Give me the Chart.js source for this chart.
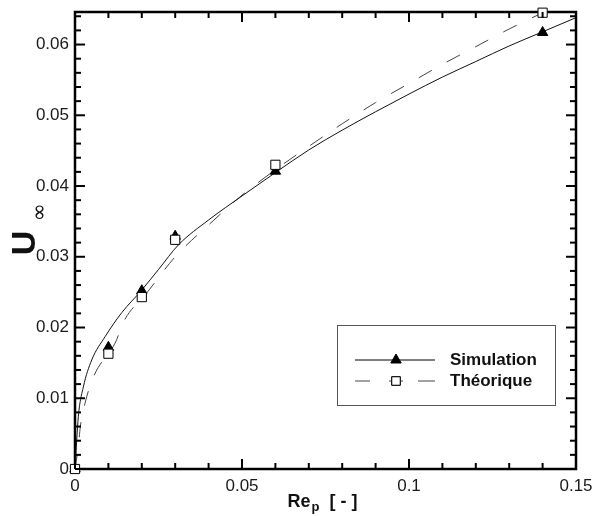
<!DOCTYPE html>
<html>
<head>
<meta charset="utf-8">
<script src="https://cdn.jsdelivr.net/npm/chart.js@4.4.0/dist/chart.umd.min.js"></script>
<style>
  html, body { margin: 0; padding: 0; background: #fff; }
</style>
</head>
<body>
<canvas id="myChart" width="594" height="516"></canvas>
<script>
// markers
const pointRe = [0, 0.01, 0.02, 0.03, 0.06, 0.14];
const simU = [0, 0.0172, 0.0252, 0.0329, 0.0421, 0.0617];
const theoU = [0, 0.0163, 0.0243, 0.0324, 0.0430, 0.0645];

// curves, points picked along the drawn lines
const simCurveRe = [0, 0.001, 0.0025, 0.005, 0.009, 0.014, 0.02, 0.025, 0.031, 0.04, 0.05, 0.06, 0.07, 0.08, 0.09, 0.10, 0.11, 0.12, 0.13, 0.14, 0.15];
const simCurveU = [0, 0.0074, 0.0116, 0.0154, 0.0187, 0.0221, 0.0253, 0.0282, 0.0317, 0.0352, 0.0386, 0.0419, 0.0451, 0.0479, 0.0505, 0.0530, 0.0554, 0.0576, 0.0598, 0.0618, 0.0638];
const theoCurveRe = [0, 0.001, 0.0016, 0.003, 0.0056, 0.012, 0.015, 0.021, 0.03, 0.04, 0.05, 0.06, 0.07, 0.08, 0.09, 0.10, 0.11, 0.12, 0.13, 0.14, 0.15];
const theoCurveU = [0, 0.0032, 0.0060, 0.0093, 0.0131, 0.0178, 0.0212, 0.0246, 0.0300, 0.0345, 0.0387, 0.0423, 0.0456, 0.0488, 0.0518, 0.0545, 0.0572, 0.0597, 0.0622, 0.0645, 0.0668];

const xTicks = [0, 0.05, 0.1, 0.15];
const xTickLabels = ['0', '0.05', '0.1', '0.15'];
const yTicks = [0, 0.01, 0.02, 0.03, 0.04, 0.05, 0.06];
const yTickLabels = ['0', '0.01', '0.02', '0.03', '0.04', '0.05', '0.06'];
const legendLabels = ['Simulation', 'Théorique'];

const xyPairs = (xs, ys) => xs.map((x, i) => ({ x: x, y: ys[i] }));

function segment(ctx, x1, y1, x2, y2) {
  ctx.beginPath();
  ctx.moveTo(x1, y1);
  ctx.lineTo(x2, y2);
  ctx.stroke();
}

// frame, inward ticks on all four sides, axis titles, legend box
const decor = {
  id: 'decor',
  beforeDatasetsDraw(chart) {
    const ctx = chart.ctx;
    const a = chart.chartArea;
    ctx.save();
    ctx.strokeStyle = '#000';
    ctx.lineWidth = 2.5;
    ctx.strokeRect(a.left, a.top, a.right - a.left, a.bottom - a.top);
    ctx.restore();
  },
  afterDraw(chart) {
    const ctx = chart.ctx;
    const a = chart.chartArea;
    const xs = chart.scales.x, ys = chart.scales.y;
    ctx.save();
    ctx.setLineDash([]);
    ctx.strokeStyle = '#000';
    ctx.lineWidth = 2;

    // x: a tick every 0.01, longer at labelled values
    for (let i = 0; i <= 15; i++) {
      const px = xs.getPixelForValue(i / 100);
      const len = (i % 5 === 0) ? 10 : 6;
      segment(ctx, px, a.bottom, px, a.bottom - len);
      segment(ctx, px, a.top, px, a.top + len);
    }
    // y: a tick every 0.002
    for (let i = 0; i * 0.002 <= ys.max; i++) {
      const py = ys.getPixelForValue(i * 0.002);
      const len = (i % 5 === 0) ? 10 : 6;
      segment(ctx, a.left, py, a.left + len, py);
      segment(ctx, a.right, py, a.right - len, py);
    }

    ctx.fillStyle = '#111';
    // y title: U with infinity subscript
    ctx.translate(26, 243);
    ctx.rotate(-Math.PI / 2);
    ctx.textAlign = 'center';
    ctx.textBaseline = 'middle';
    ctx.font = 'bold 34px "Liberation Sans", Arial, sans-serif';
    ctx.fillText('U', 0, 0);
    ctx.font = '22px "DejaVu Sans", sans-serif';
    ctx.fillText('\u221E', 31, 14);
    ctx.setTransform(1, 0, 0, 1, 0, 0);

    // x title: Re_p [ - ]
    ctx.textAlign = 'left';
    ctx.textBaseline = 'alphabetic';
    const big = 'bold 18px "Liberation Sans", Arial, sans-serif';
    const small = 'bold 13px "Liberation Sans", Arial, sans-serif';
    const rest = '  [ - ]';
    ctx.font = big;
    const w1 = ctx.measureText('Re').width;
    const w3 = ctx.measureText(rest).width;
    ctx.font = small;
    const w2 = ctx.measureText('p').width;
    let tx = 322 - (w1 + w2 + w3) / 2;
    const ty = 507;
    ctx.font = big; ctx.fillText('Re', tx, ty); tx += w1 + 1;
    ctx.font = small; ctx.fillText('p', tx, ty + 4); tx += w2;
    ctx.font = big; ctx.fillText(rest, tx, ty);

    // legend box
    const bx = a.right - 239, by = a.bottom - 144, bw = 218, bh = 80;
    ctx.fillStyle = '#fff';
    ctx.fillRect(bx, by, bw, bh);
    ctx.strokeStyle = '#555';
    ctx.lineWidth = 1;
    ctx.strokeRect(bx + 0.5, by + 0.5, bw, bh);
    const rows = [by + 35, by + 56];
    ctx.strokeStyle = '#000';
    segment(ctx, bx + 18, rows[0], bx + 98, rows[0]);
    Chart.helpers.drawPoint(ctx, { pointStyle: 'triangle', radius: 6, borderWidth: 1 }, bx + 59, rows[0]);
    ctx.fillStyle = '#000';
    ctx.fill();
    ctx.strokeStyle = '#444';
    segment(ctx, bx + 18, rows[1], bx + 33, rows[1]);
    segment(ctx, bx + 52, rows[1], bx + 66, rows[1]);
    segment(ctx, bx + 81, rows[1], bx + 98, rows[1]);
    ctx.fillStyle = '#fff';
    ctx.strokeStyle = '#000';
    Chart.helpers.drawPoint(ctx, { pointStyle: 'rect', radius: 6, borderWidth: 1 }, bx + 59, rows[1]);
    ctx.fill();
    ctx.stroke();
    ctx.fillStyle = '#111';
    ctx.font = 'bold 17px "Liberation Sans", Arial, sans-serif';
    ctx.textBaseline = 'middle';
    ctx.fillText(legendLabels[0], bx + 113, rows[0]);
    ctx.fillText(legendLabels[1], bx + 113, rows[1]);
    ctx.restore();
  }
};

const tickFont = { family: '"Liberation Sans", Arial, sans-serif', size: 17 };

new Chart(document.getElementById('myChart').getContext('2d'), {
  type: 'scatter',
  data: {
    datasets: [
      {
        label: legendLabels[1],
        data: xyPairs(pointRe, theoU),
        pointStyle: 'rect',
        pointRadius: 6.5,
        backgroundColor: '#fff',
        borderColor: '#000',
        borderWidth: 1,
        clip: false,
        order: 0
      },
      {
        label: legendLabels[0],
        data: xyPairs(pointRe, simU),
        pointStyle: 'triangle',
        pointRadius: 6,
        backgroundColor: '#000',
        borderColor: '#000',
        borderWidth: 1,
        clip: false,
        order: 1
      },
      {
        label: 'sim curve',
        data: xyPairs(simCurveRe, simCurveU),
        showLine: true,
        pointRadius: 0,
        borderColor: '#111',
        borderWidth: 1,
        cubicInterpolationMode: 'monotone',
        order: 2
      },
      {
        label: 'theo curve',
        data: xyPairs(theoCurveRe, theoCurveU),
        showLine: true,
        pointRadius: 0,
        borderColor: '#444',
        borderWidth: 1,
        borderDash: [15, 17],
        cubicInterpolationMode: 'monotone',
        order: 3
      }
    ]
  },
  options: {
    responsive: false,
    animation: false,
    layout: { padding: { left: 0, right: 18, top: 12, bottom: 0 } },
    plugins: {
      legend: { display: false },
      tooltip: { enabled: false }
    },
    scales: {
      x: {
        type: 'linear',
        min: 0,
        max: 0.15,
        grid: { display: false, drawTicks: false },
        border: { display: false },
        afterBuildTicks: s => { s.ticks = xTicks.map(v => ({ value: v })); },
        afterFit: s => { s.height = 47; s.paddingLeft = 0; s.paddingRight = 0; },
        ticks: {
          color: '#1a1a1a',
          font: tickFont,
          padding: 7,
          maxRotation: 0,
          callback: (v, i) => xTickLabels[i]
        }
      },
      y: {
        type: 'linear',
        min: 0,
        max: 0.0646,
        grid: { display: false, drawTicks: false },
        border: { display: false },
        afterBuildTicks: s => { s.ticks = yTicks.map(v => ({ value: v })); },
        afterFit: s => { s.width = 75; s.paddingTop = 0; s.paddingBottom = 0; },
        ticks: {
          color: '#1a1a1a',
          font: tickFont,
          padding: 6,
          callback: (v, i) => yTickLabels[i]
        }
      }
    }
  },
  plugins: [decor]
});
</script>
</body>
</html>
